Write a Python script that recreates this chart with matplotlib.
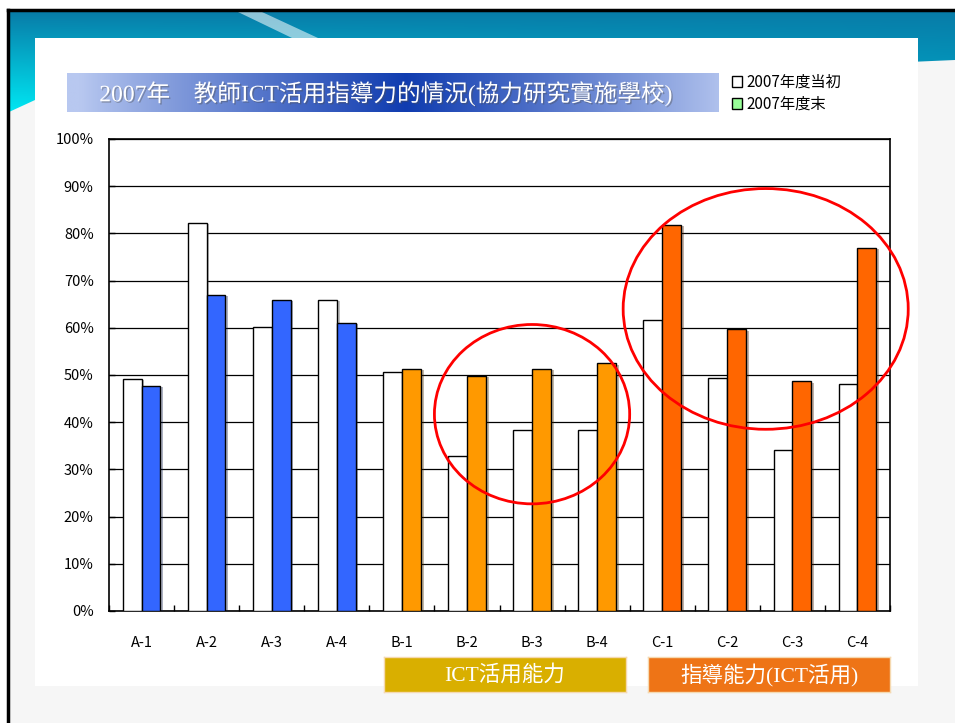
import numpy as np
import matplotlib
matplotlib.use("Agg")
import matplotlib.pyplot as plt
from matplotlib.patches import Rectangle, Polygon, Ellipse, Patch
import matplotlib.patheffects as pe

plt.rcParams['font.family'] = ['Noto Sans CJK JP', 'DejaVu Sans']
SERIF = ['Liberation Serif', 'Noto Sans CJK TC']

# survey items and share of teachers (%) at start / end of 2007
items = ['A-1', 'A-2', 'A-3', 'A-4', 'B-1', 'B-2', 'B-3', 'B-4',
         'C-1', 'C-2', 'C-3', 'C-4']
start_2007 = [49.2, 82.2, 60.2, 65.9, 50.6, 32.8, 38.3, 38.3, 61.7, 49.4, 34.1, 48.1]
end_2007 = [47.7, 67.0, 65.9, 61.0, 51.3, 49.8, 51.3, 52.5, 81.8, 59.7, 48.7, 76.9]
group_colors = ['#3366FF'] * 4 + ['#FF9900'] * 4 + ['#FF6600'] * 4
y_ticks = [0, 10, 20, 30, 40, 50, 60, 70, 80, 90, 100]

title = '2007年\u3000教師ICT活用指導力的情況(協力研究實施學校)'
legend_labels = ['2007年度当初', '2007年度末']
group_labels = ['ICT活用能力', '指導能力(ICT活用)']

W, H = 955, 723
fig = plt.figure(figsize=(W / 100, H / 100), dpi=100)
fig.patch.set_facecolor('white')


def box(x0, y0, x1, y1):
    # pixel box (top-left origin) -> figure fraction rect
    return [x0 / W, 1 - y1 / H, (x1 - x0) / W, (y1 - y0) / H]


# --- slide background -------------------------------------------------
bg = fig.add_axes([0, 0, 1, 1], zorder=0)
bg.set_xlim(0, W)
bg.set_ylim(H, 0)
bg.axis('off')

bg.add_patch(Rectangle((9, 11), W - 9, H - 11, facecolor='#f6f6f6', edgecolor='none'))

band = Polygon([(9, 11), (W, 11), (W, 60), (35, 100), (9, 112)], closed=True,
               facecolor='none', edgecolor='none')
bg.add_patch(band)
grad = np.zeros((50, 50, 3))
top_c = np.array([0x08, 0x7c, 0xa8]) / 255
bot_c = np.array([0x00, 0xe6, 0xf2]) / 255
right_c = np.array([0x00, 0xa8, 0xc8]) / 255
for i in range(50):
    for j in range(50):
        t = i / 49
        s = j / 49
        grad[i, j] = (top_c * (1 - t) + bot_c * t) * (1 - s) + (top_c * (1 - t) + right_c * t) * s
im = bg.imshow(grad, extent=(9, W, 112, 11), aspect='auto', zorder=1)
im.set_clip_path(band)
bg.add_patch(Polygon([(238, 12), (262, 12), (318, 38), (292, 38)], closed=True,
                     facecolor='white', alpha=0.55, edgecolor='none', zorder=2))

bg.add_patch(Rectangle((35, 38), 918 - 35, 686 - 38, facecolor='white',
                       edgecolor='none', zorder=3))
bg.plot([8, W], [10, 10], color='black', lw=2.5, zorder=4)
bg.plot([8, 8], [10, H], color='black', lw=2.5, zorder=4)

# title banner with a blue gradient
tb = fig.add_axes(box(67, 73, 718, 112), zorder=2)
tb.axis('off')
xs = np.linspace(0, 1, 300)
light = np.array([0xb8, 0xc8, 0xf0]) / 255
dark = np.array([0x10, 0x3c, 0xb0]) / 255
w = np.clip(1 - np.abs(xs - 0.52) / 0.5, 0, 1) ** 0.9
row = light[None, :] * (1 - w[:, None]) + dark[None, :] * w[:, None]
tb.imshow(row[None, :, :], extent=(0, 1, 0, 1), aspect='auto')
tb.set_xlim(0, 1)
tb.set_ylim(0, 1)
tb.text(0.49, 0.47, title, color='white', fontsize=17, ha='center', va='center',
        family=SERIF,
        path_effects=[pe.withSimplePatchShadow(offset=(1, -1), alpha=0.4)])

# --- chart ------------------------------------------------------------
ax = fig.add_axes(box(109, 139, 890, 611), zorder=3)
x = np.arange(len(items))
bw = 0.29
shadow = [pe.SimplePatchShadow(offset=(2, -1), alpha=0.35), pe.Normal()]
b1 = ax.bar(x - bw / 2, start_2007, width=bw, color='white', edgecolor='black',
            linewidth=1, zorder=3)
b2 = ax.bar(x + bw / 2, end_2007, width=bw, color=group_colors, edgecolor='black',
            linewidth=1, zorder=3)
for b in list(b1) + list(b2):
    b.set_path_effects(shadow)

ax.set_xlim(-0.5, len(items) - 0.5)
ax.set_ylim(0, 100)
ax.set_yticks(y_ticks)
ax.set_yticklabels([f'{v}%' for v in y_ticks], fontsize=10.5)
ax.yaxis.grid(True, color='black', linewidth=0.9)
ax.set_axisbelow(True)
ax.set_xticks(np.arange(len(items) + 1) - 0.5)
ax.set_xticklabels([])
ax.set_xticks(x, minor=True)
ax.set_xticklabels(items, minor=True, fontsize=10.5)
ax.tick_params(axis='x', which='major', direction='in', length=4, width=1)
ax.tick_params(axis='x', which='minor', length=0, pad=18)
ax.tick_params(axis='y', direction='in', length=4, width=1, pad=11)
for sp in ax.spines.values():
    sp.set_linewidth(1.2)
    sp.set_color('black')

# highlight circles
ax.add_patch(Ellipse((6.0, 41.7), 3.0, 38, fill=False, edgecolor='red',
                     linewidth=2, zorder=5, clip_on=False))
ax.add_patch(Ellipse((9.59, 64), 4.38, 51, fill=False, edgecolor='red',
                     linewidth=2, zorder=5, clip_on=False))

# legend
handles = [Patch(facecolor='white', edgecolor='black', linewidth=1),
           Patch(facecolor='#99FF99', edgecolor='black', linewidth=1)]
fig.legend(handles, legend_labels, loc='upper left',
           bbox_to_anchor=(724 / W, 1 - 66 / H), frameon=False, fontsize=11,
           handlelength=0.7, handleheight=0.7, handletextpad=0.3,
           labelspacing=0.35, borderpad=0)

# group captions under the axis
for (x0, x1), lab, col in zip([(384, 626), (648, 890)], group_labels,
                              ['#D9AF00', '#EE7416']):
    gb = fig.add_axes(box(x0, 657, x1, 692), zorder=3)
    gb.set_facecolor(col)
    gb.set_xticks([])
    gb.set_yticks([])
    for sp in gb.spines.values():
        sp.set_edgecolor('#f5d9b0')
        sp.set_linewidth(1)
    gb.text(0.5, 0.47, lab, color='white', fontsize=15.5, ha='center', va='center',
            family=SERIF, transform=gb.transAxes)

fig.savefig('out.png', dpi=100)
